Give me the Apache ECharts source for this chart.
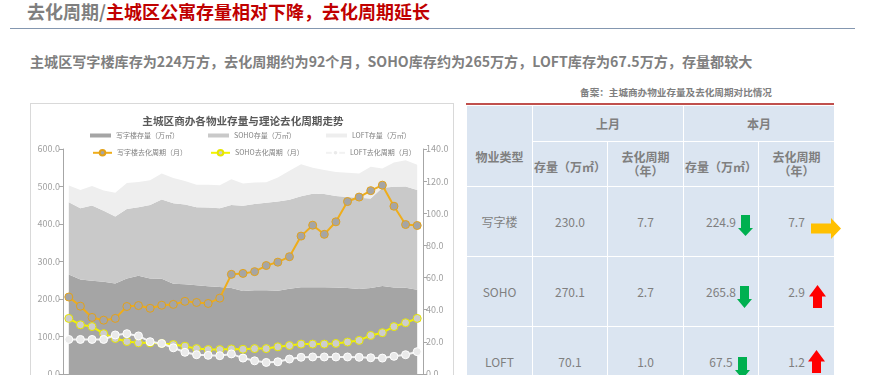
<!DOCTYPE html>
<html><head><meta charset="utf-8">
<script src="https://cdn.jsdelivr.net/npm/echarts@6/dist/echarts.min.js"></script>
<style>
html,body{margin:0;padding:0;width:874px;height:375px;overflow:hidden;background:#fff;font-family:"Noto Sans CJK SC","Noto Sans",sans-serif;}
.abs{position:absolute;}
#title{left:27px;top:0px;font-size:18px;font-weight:bold;line-height:22px;white-space:nowrap;color:#7f7f7f;}
#title span{color:#c00000;}
#rule{left:10px;top:27.5px;width:845px;height:1.5px;background:#8497b0;}
#sub{left:30px;top:51px;font-size:14.1px;font-weight:bold;line-height:20px;white-space:nowrap;color:#7f7f7f;}
#box{left:30px;top:103px;width:424px;height:300px;border:1px solid #d9d9d9;box-sizing:border-box;}
#chart{left:30px;top:103px;width:426px;height:290px;}
#tcap{left:492px;top:85px;width:368px;text-align:center;font-size:9.6px;font-weight:bold;line-height:14px;color:#7f7f7f;white-space:nowrap;}
#redline{left:466px;top:103px;width:368px;height:1.5px;background:#c0504d;}
#tbl{left:466px;top:105px;border-collapse:collapse;table-layout:fixed;width:368px;}
#tbl td,#tbl th{background:#dbe5f1;border:1.5px solid #fff;padding:0;text-align:center;vertical-align:middle;color:#7f7f7f;white-space:nowrap;overflow:visible;}
#tbl th{font-size:12px;font-weight:bold;line-height:14px;}
#tbl td{font-size:12px;font-weight:normal;line-height:14px;}
svg.arr{position:absolute;overflow:visible;}
</style></head>
<body>
<div id="title" class="abs">去化周期/<span>主城区公寓存量相对下降，去化周期延长</span></div>
<div id="rule" class="abs"></div>
<div id="sub" class="abs">主城区写字楼库存为224万方，去化周期约为92个月，SOHO库存约为265万方，LOFT库存为67.5万方，存量都较大</div>
<div id="box" class="abs"></div>
<div id="chart" class="abs"></div>
<div id="tcap" class="abs">备案：主城商办物业存量及去化周期对比情况</div>
<div id="redline" class="abs"></div>
<table id="tbl" class="abs">
<colgroup><col style="width:66px"><col style="width:75px"><col style="width:76px"><col style="width:75px"><col style="width:76px"></colgroup>
<tr style="height:36px"><th rowspan="2" style="vertical-align:top;padding-top:44px;">物业类型</th><th colspan="2">上月</th><th colspan="2">本月</th></tr>
<tr style="height:45px"><th style="padding-top:6px">存量（万㎡）</th><th>去化周期<br>（年）</th><th style="padding-top:6px">存量（万㎡）</th><th>去化周期<br>（年）</th></tr>
<tr style="height:70px"><td>写字楼</td><td>230.0</td><td>7.7</td><td>224.9</td><td>7.7</td></tr>
<tr style="height:70px"><td>SOHO</td><td>270.1</td><td>2.7</td><td>265.8</td><td>2.9</td></tr>
<tr style="height:70px"><td>LOFT</td><td>70.1</td><td>1.0</td><td>67.5</td><td>1.2</td></tr>
</table>
<svg class="arr" style="left:738px;top:215px" width="15" height="21"><polygon points="3,0 12,0 12,13 15,13 7.5,21 0,13 3,13" fill="#00b050"/></svg>
<svg class="arr" style="left:811px;top:218px" width="30" height="21"><polygon points="0,5.5 20,5.5 20,0 30,10.5 20,21 20,15.5 0,15.5" fill="#ffc000"/></svg>
<svg class="arr" style="left:737px;top:286px" width="15" height="22"><polygon points="3,0 12,0 12,13 15,13 7.5,22 0,13 3,13" fill="#00b050"/></svg>
<svg class="arr" style="left:809px;top:285px" width="17" height="23"><polygon points="8.5,0 17,11.5 13,11.5 13,23 4,23 4,11.5 0,11.5" fill="#ff0000"/></svg>
<svg class="arr" style="left:735px;top:357px" width="15" height="22"><polygon points="3,0 12,0 12,13 15,13 7.5,22 0,13 3,13" fill="#00b050"/></svg>
<svg class="arr" style="left:808px;top:350px" width="17" height="23"><polygon points="8.5,0 17,11.5 13,11.5 13,23 4,23 4,11.5 0,11.5" fill="#ff0000"/></svg>
<script>
const categories = ['M1','M2','M3','M4','M5','M6','M7','M8','M9','M10','M11','M12','M13','M14','M15','M16','M17','M18','M19','M20','M21','M22','M23','M24','M25','M26','M27','M28','M29','M30','M31'];
const officeStock = [265.6,252.0,248.4,245.7,241.2,254.7,262.0,254.7,253.8,241.0,239.4,236.7,234.0,232.2,229.4,221.3,223.1,223.1,222.2,227.6,231.3,231.3,231.3,230.4,229.4,226.7,229.4,234.9,230.4,230.0,224.9];
const sohoStock = [192.4,189.8,200.8,189.9,179.0,185.5,182.6,196.3,211.6,214.4,212.5,207.9,209.8,209.6,221.6,227.7,230.5,233.3,237.8,237.0,242.7,249.7,248.7,244.6,242.6,243.3,238.6,262.1,269.1,270.1,265.8];
const loftStock = [45.0,49.2,52.4,54.0,63.1,69.3,67.6,65.7,69.4,67.6,63.0,60.3,61.1,61.4,68.4,58.7,56.8,54.9,64.0,77.4,85.2,69.0,63.8,63.4,64.6,64.8,84.8,51.3,64.2,70.1,67.5];
const officeMonths = [47.9,42.2,35.2,33.5,34.6,42.0,42.6,40.9,42.8,43.3,45.2,44.5,43.9,47.2,62.0,62.6,63.7,67.5,69.6,73.0,85.8,92.6,86.9,94.7,107.3,110.1,114.1,117.5,104.4,93.0,92.4];
const sohoMonths = [34.6,30.6,29.5,25.1,22.1,20.2,19.4,19.4,19.0,18.3,17.3,15.8,15.2,15.2,15.6,15.4,15.8,15.8,16.9,17.7,18.6,18.6,18.6,19.0,19.9,20.9,24.0,25.7,29.5,31.9,34.6];
const loftMonths = [21.5,21.5,21.5,21.5,24.3,25.1,23.7,20.1,19.0,16.3,13.5,12.0,11.6,11.4,12.5,9.9,8.2,7.2,7.6,9.3,10.4,10.6,10.6,10.6,10.6,10.4,10.1,9.9,11.0,12.0,13.9];
const leftTicks = {min:0,max:600,interval:100};
const rightTicks = {min:0,max:140,interval:20};

const chart = echarts.init(document.getElementById('chart'), null, {renderer:'canvas'});
const font = '"Noto Sans CJK SC","Noto Sans",sans-serif';
const axisColor = '#a6a6a6';
const labelColor = '#a0a0a0';
function areaSeries(name, data, color){
  return {name, type:'line', stack:'stock', data, yAxisIndex:0, showSymbol:false, symbol:'none',
    lineStyle:{width:0, color}, itemStyle:{color}, areaStyle:{color, opacity:1}, z:1};
}
function lineSeries(name, data, line, fill, border, z){
  return {name, type:'line', data, yAxisIndex:1, symbol:'circle', symbolSize:8, showSymbol:true, showAllSymbol:true,
    lineStyle:{width:2, color:line}, itemStyle:{color:fill, borderColor:border, borderWidth:1}, z};
}
const legTxt = {fontSize:7, color:'#7f7f7f', fontFamily:font};
function leg(name, left, top, area){
  const o = {data:[name], left, top, textStyle:legTxt, selectedMode:false, itemGap:0, padding:0};
  if(area){ o.icon='rect'; o.itemWidth=21; o.itemHeight=4; }
  else { o.itemWidth=19; o.itemHeight=7; }
  return o;
}
chart.setOption({
  animation:false,
  textStyle:{fontFamily:font},
  title:{text:'主城区商办各物业存量与理论去化周期走势', left:'center', top:8,
    textStyle:{fontSize:10.6, fontWeight:'bold', color:'#595959', fontFamily:font}},
  legend:[
    leg('写字楼存量（万㎡）',60,29,true),
    leg('SOHO存量（万㎡）',178,29,true),
    leg('LOFT存量（万㎡）',296,29,true),
    leg('写字楼去化周期（月）',62,46,false),
    leg('SOHO去化周期（月）',180,46,false),
    leg('LOFT去化周期（月）',295,46,false)
  ],
  grid:{left:33, right:33, top:46, bottom:19, containLabel:false},
  xAxis:{type:'category', data:categories, boundaryGap:true,
    axisLine:{lineStyle:{color:axisColor}}, axisTick:{show:true, length:4, alignWithLabel:false, interval:0, lineStyle:{color:axisColor}},
    axisLabel:{show:false}, splitLine:{show:false}},
  yAxis:[
    {type:'value', min:leftTicks.min, max:leftTicks.max, interval:leftTicks.interval, position:'left',
      axisLine:{show:true, lineStyle:{color:axisColor}}, axisTick:{show:true, length:4, lineStyle:{color:axisColor}},
      axisLabel:{fontSize:9, color:labelColor, margin:3, formatter:v=>v.toFixed(1)}, splitLine:{show:false}},
    {type:'value', min:rightTicks.min, max:rightTicks.max, interval:rightTicks.interval, position:'right',
      axisLine:{show:true, lineStyle:{color:axisColor}}, axisTick:{show:true, length:4, lineStyle:{color:axisColor}},
      axisLabel:{fontSize:9, color:labelColor, margin:3, formatter:v=>v.toFixed(1)}, splitLine:{show:false}}
  ],
  series:[
    areaSeries('写字楼存量（万㎡）', officeStock, '#a5a5a5'),
    areaSeries('SOHO存量（万㎡）', sohoStock, '#c9c9c9'),
    areaSeries('LOFT存量（万㎡）', loftStock, '#eeeeee'),
    lineSeries('写字楼去化周期（月）', officeMonths, '#efad1a', '#a5a5a5', '#e3a21a', 3),
    lineSeries('SOHO去化周期（月）', sohoMonths, '#f2f200', '#cdcdcd', '#e6e600', 4),
    lineSeries('LOFT去化周期（月）', loftMonths, '#f2f2f2', '#eaeaea', '#ffffff', 5)
  ]
});
</script>
</body></html>
